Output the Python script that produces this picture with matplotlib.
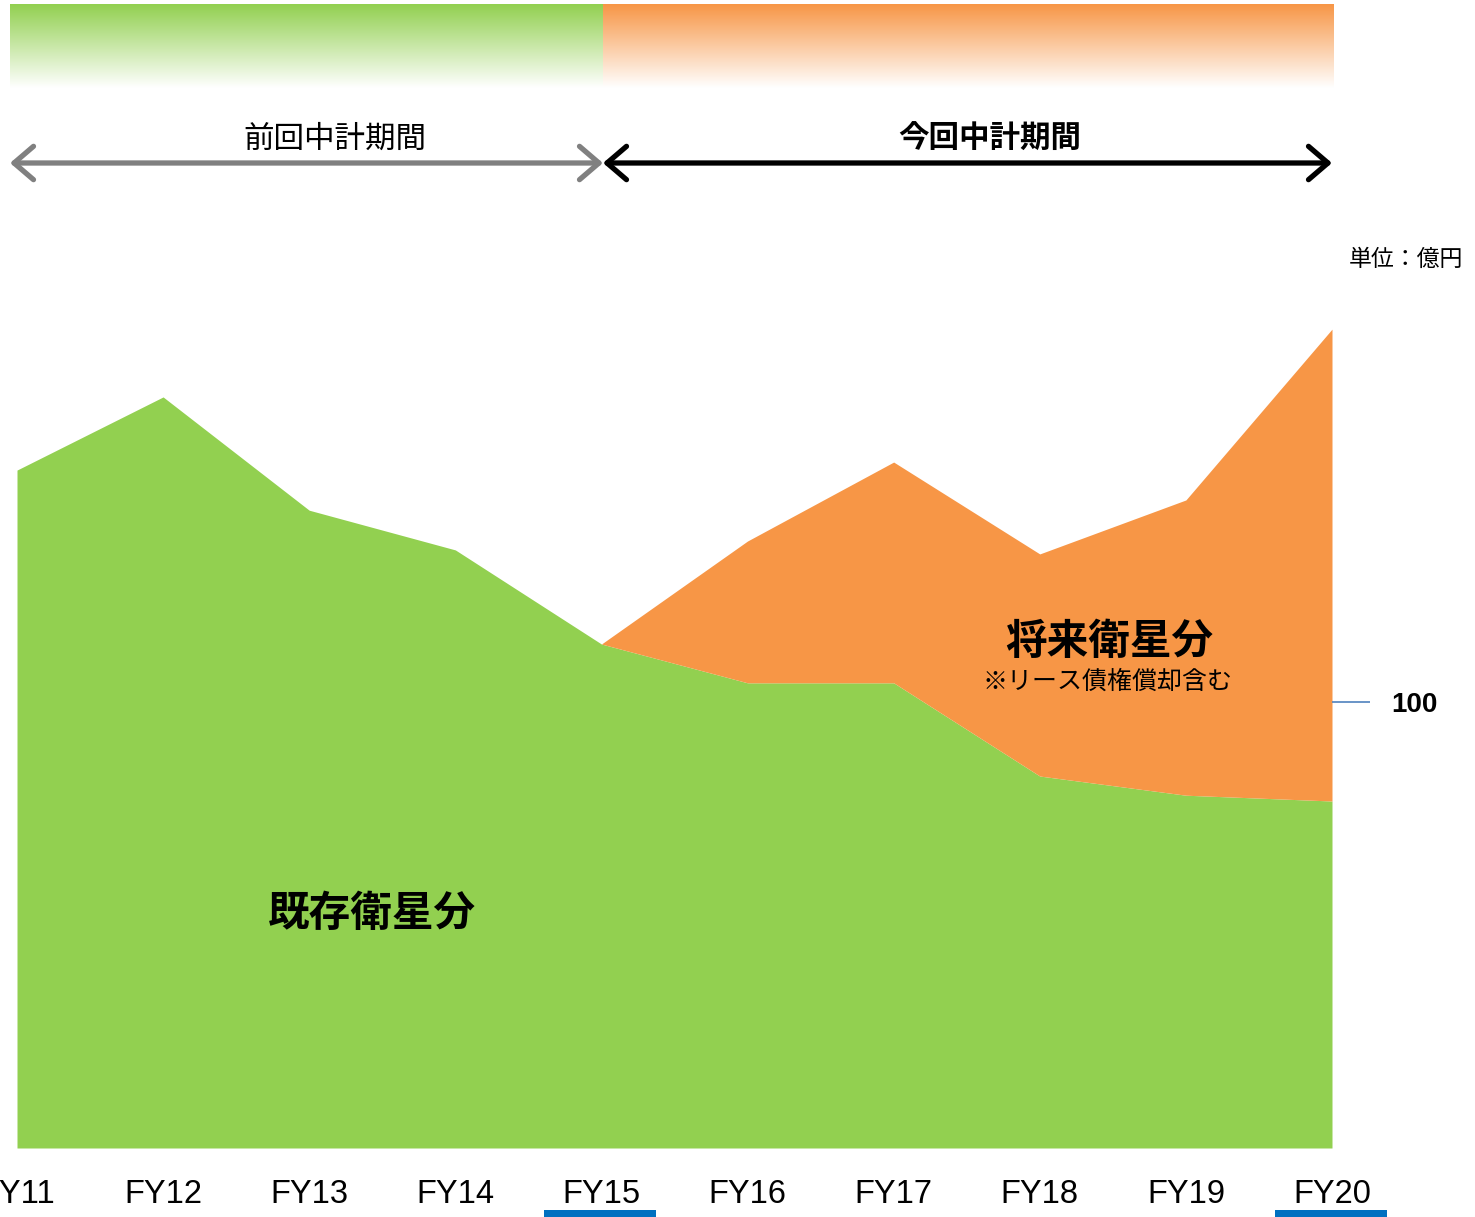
import numpy as np
import matplotlib
matplotlib.use("Agg")
import matplotlib.pyplot as plt
from matplotlib.patches import FancyArrowPatch, Rectangle
from matplotlib.colors import to_rgb
import matplotlib.transforms as mtransforms

plt.rcParams['font.family'] = ['Noto Sans CJK JP', 'DejaVu Sans']

# ---- data (億円) ----
years = ["FY11", "FY12", "FY13", "FY14", "FY15", "FY16", "FY17", "FY18", "FY19", "FY20"]
existing = [152.0, 168.4, 143.0, 134.1, 113.0, 104.3, 104.3, 83.4, 79.1, 77.8]
future_years = ["FY15", "FY16", "FY17", "FY18", "FY19", "FY20"]
future = [0.0, 31.8, 49.5, 49.8, 66.2, 105.8]
highlight = ["FY15", "FY20"]

GREEN = "#92D050"
ORANGE = "#F79646"
BLUE = "#0070C0"

W, H = 1475, 1217
fig = plt.figure(figsize=(W / 100, H / 100), dpi=100)

# main axes: x from FY11 (17px) to FY20 (1332px), baseline at 1148px
x_left, x_right, y_base, y_top = 17, 1332, 1148, 4
px_per_unit = 4.46
ax = fig.add_axes([x_left / W, 1 - y_base / H, (x_right - x_left) / W, (y_base - y_top) / H])
x = np.arange(len(years))
ax.set_xlim(0, len(years) - 1)
ax.set_ylim(0, (y_base - y_top) / px_per_unit)

ax.fill_between(x, 0, existing, color=GREEN, lw=0)
fx = np.array([years.index(y) for y in future_years])
base = np.array([existing[i] for i in fx])
ax.fill_between(fx, base, base + np.array(future), color=ORANGE, lw=0)

for s in ax.spines.values():
    s.set_visible(False)
ax.patch.set_alpha(0)
ax.set_xticks(x)
ax.set_xticklabels(years, fontsize=23.5, family=['Liberation Sans', 'DejaVu Sans'])
ax.tick_params(axis='x', length=0, pad=22)
ax.yaxis.tick_right()
ax.set_yticks([100])
ax.set_yticklabels(["100"], fontsize=20, fontweight='semibold', family=['Liberation Sans', 'DejaVu Sans'])
ax.tick_params(axis='y', direction='out', length=27, width=1.2, color="#4F81BD", pad=16)

# blue underlines under highlighted years
trans = mtransforms.blended_transform_factory(ax.transData, fig.transFigure)
for hy in highlight:
    i = years.index(hy)
    ax.add_patch(Rectangle((i - 0.39, 1 - 1217 / H), 0.766, 7 / H, transform=trans,
                           color=BLUE, clip_on=False, lw=0))

# overlay axes in pixel coords for decorations
ov = fig.add_axes([0, 0, 1, 1])
ov.set_xlim(0, W)
ov.set_ylim(H, 0)
ov.axis('off')
ov.patch.set_alpha(0)

def grad(x0, x1, y0, y1, color):
    n = 200
    c = np.array(to_rgb(color))
    t = np.linspace(0, 1, n)[:, None]
    img = c[None, :] * (1 - t) + np.ones(3)[None, :] * t
    img = np.repeat(img[:, None, :], 2, axis=1)
    ov.imshow(img, extent=(x0, x1, y1, y0), aspect='auto', interpolation='bilinear')

grad(10, 603, 4, 88, GREEN)
grad(603, 1334, 4, 88, ORANGE)
ov.set_xlim(0, W)
ov.set_ylim(H, 0)

ov.add_patch(FancyArrowPatch((10, 163), (603, 163), arrowstyle='<->,head_length=0.7,head_width=0.6',
                             mutation_scale=20, lw=3.8, color='#808080', shrinkA=0, shrinkB=0,
                             capstyle='round', joinstyle='round'))
ov.add_patch(FancyArrowPatch((603, 163), (1332, 163), arrowstyle='<->,head_length=0.7,head_width=0.6',
                             mutation_scale=20, lw=3.8, color='black', shrinkA=0, shrinkB=0,
                             capstyle='round', joinstyle='round'))
ov.text(335, 139, "前回中計期間", fontsize=22, ha='center', va='center')
ov.text(990, 139, "今回中計期間", fontsize=22, ha='center', va='center', fontweight='bold')
ov.text(1406, 259, "単位：億円", fontsize=16.5, ha='center', va='center')

ov.text(372, 914, "既存衛星分", fontsize=30, ha='center', va='center', fontweight='bold')
ov.text(1109, 642, "将来衛星分", fontsize=30, ha='center', va='center', fontweight='bold')
ov.text(1108, 682, "※リース債権償却含む", fontsize=18, ha='center', va='center')

fig.savefig("out.png", dpi=100)
